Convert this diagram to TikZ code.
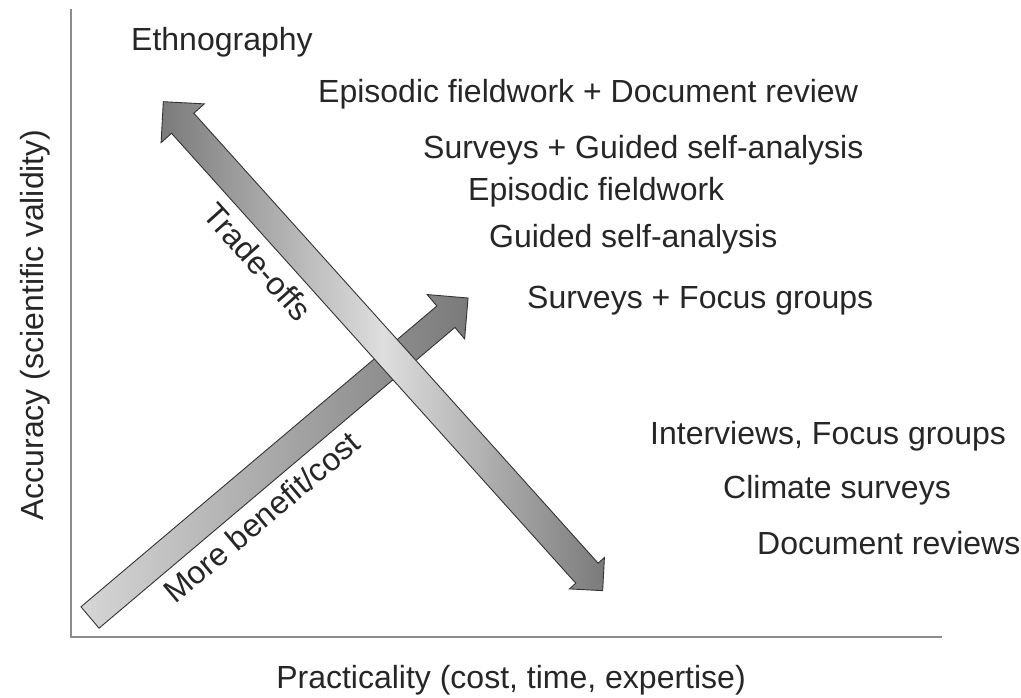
\documentclass[tikz,border=0pt]{standalone}
\usepackage{fontspec}
\setmainfont{Liberation Sans}
\usepackage{xcolor}

\begin{document}
\begin{tikzpicture}[x=1pt,y=1pt,
    lbl/.style={anchor=base west,inner sep=0pt,text=black!85,font=\fontsize{32}{38}\selectfont},
    axlbl/.style={inner sep=0pt,text=black!85,font=\fontsize{32}{38}\selectfont},
    axisline/.style={draw=black!45,line width=2pt},
    bigarrow/.style={draw=black!80,line width=0.9pt,line join=miter}]
    \useasboundingbox (0,0) rectangle (1021,698);

    % axes
    \coordinate (top) at (71,689);
    \coordinate (origin) at (71,61);
    \coordinate (right) at (942,61);
    \draw[axisline] (top) -- (origin) -- (right);
    \node[axlbl,rotate=90] (accuracy) at (35,373) {Accuracy (scientific validity)};
    \node[axlbl] (practicality) at (511,18) {Practicality (cost, time, expertise)};

    % More benefit/cost arrow
    \begin{scope}[shift={(90,80.5)},rotate=40.2]
        \path[bigarrow,left color=black!16,right color=black!52]
            (0,-14) -- (466,-14) -- (466,-29) -- (495,0) -- (466,29) -- (466,14) -- (0,14) -- cycle;
        \node[axlbl,rotate=40.2] (benefit) at (196,-34) {More benefit/cost};
    \end{scope}

    % Trade-offs arrow (two heads)
    \begin{scope}[shift={(163.3,596.3)},rotate=-48.06]
        \path[bigarrow,left color=black!52,right color=black!52,middle color=black!13]
            (0,0) -- (29,29) -- (29,15) -- (633.9,15) -- (633.9,23.5) -- (657.4,0)
            -- (633.9,-23.5) -- (633.9,-15) -- (29,-15) -- (29,-29) -- cycle;
        \node[axlbl,rotate=-48.06] (tradeoffs) at (182.5,-36.6) {Trade-offs};
    \end{scope}

    % methods
    \node[lbl] (ethno) at (131,647) {Ethnography};
    \node[lbl] (epidoc) at (318,595) {Episodic fieldwork + Document review};
    \node[lbl] (survguided) at (423,539) {Surveys + Guided self-analysis};
    \node[lbl] (episodic) at (468,497) {Episodic fieldwork};
    \node[lbl] (guided) at (489,450) {Guided self-analysis};
    \node[lbl] (survfocus) at (527,389) {Surveys + Focus groups};
    \node[lbl] (interviews) at (650,253) {Interviews, Focus groups};
    \node[lbl] (climate) at (723,199) {Climate surveys};
    \node[lbl] (docrev) at (757,143) {Document reviews};
\end{tikzpicture}
\end{document}
